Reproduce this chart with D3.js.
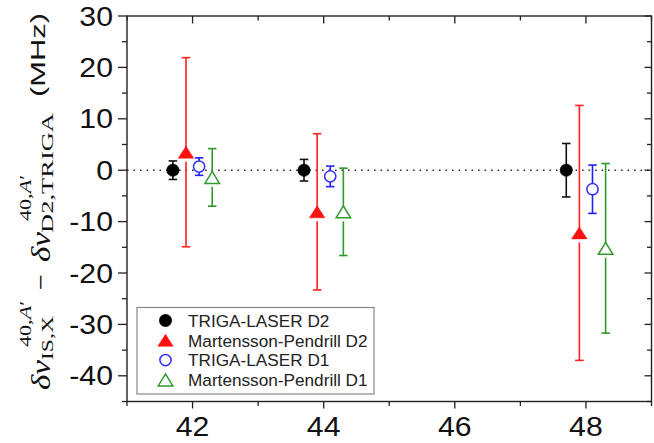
<!DOCTYPE html>
<html><head><meta charset="utf-8">
<script src="https://cdn.jsdelivr.net/npm/d3@7/dist/d3.min.js"></script>
<style>body{margin:0;background:#fff}svg{display:block}</style>
</head><body>
<svg id="c" width="654" height="443"></svg>
<script>
// ---- data ----
const seriesNames = ["TRIGA-LASER D2", "Martensson-Pendrill D2", "TRIGA-LASER D1", "Martensson-Pendrill D1"];
const trigaD2X = [41.7, 43.7, 47.7];
const trigaD2Y = [0, 0, 0];
const trigaD2Err = [1.8, 2.1, 5.2];
const mpD2X = [41.9, 43.9, 47.9];
const mpD2Y = [3.5, -8.1, -12.2];
const mpD2Err = [18.4, 15.2, 24.8];
const trigaD1X = [42.1, 44.1, 48.1];
const trigaD1Y = [0.7, -1.2, -3.7];
const trigaD1Err = [1.7, 2.0, 4.7];
const mpD1X = [42.3, 44.3, 48.3];
const mpD1Y = [-1.4, -8.1, -15.2];
const mpD1Err = [5.6, 8.5, 16.5];
const xTickLabels = [42, 44, 46, 48];
const yTickLabels = [30, 20, 10, 0, -10, -20, -30, -40];

// ---- styling ----
const styles = [
  {shape: "circle", fill: "#000", stroke: "#000", bar: "#111", gap: 0},
  {shape: "tri", fill: "#ff1010", stroke: "#ff1010", bar: "#ff2020", gap: 3.5},
  {shape: "circle", fill: "#fff", stroke: "#3030ff", bar: "#2020ff", gap: 0},
  {shape: "tri", fill: "#fff", stroke: "#2e9a2e", bar: "#2e9a2e", gap: 3.5}
];
const series = [
  {x: trigaD2X, y: trigaD2Y, e: trigaD2Err},
  {x: mpD2X, y: mpD2Y, e: mpD2Err},
  {x: trigaD1X, y: trigaD1Y, e: trigaD1Err},
  {x: mpD1X, y: mpD1Y, e: mpD1Err}
];

const svg = d3.select("#c");
const L = 127, R = 651.5, T = 16, B = 401.5;
const x = d3.scaleLinear().domain([41, 49]).range([L, R]);
const y = d3.scaleLinear().domain([-45, 30]).range([B, T]);
const axisCol = "#222";

// zero dotted line
svg.append("line").attr("x1", L).attr("x2", R).attr("y1", y(0)).attr("y2", y(0))
  .attr("stroke", "#333").attr("stroke-width", 1.6).attr("stroke-dasharray", "1.6,4.9");

// ticks
const xt = d3.range(41, 49.01, 1);
const yt = d3.range(-45, 30.01, 5);
const tk = svg.append("g").attr("stroke", axisCol).attr("stroke-width", 1.3);
xt.forEach(v => {
  const maj = v % 2 === 0;
  tk.append("line").attr("x1", x(v)).attr("x2", x(v)).attr("y1", B).attr("y2", B + (maj ? 7 : 4.5));
  tk.append("line").attr("x1", x(v)).attr("x2", x(v)).attr("y1", T).attr("y2", T + (maj ? 7.5 : 4.5));
});
yt.forEach(v => {
  const maj = v % 10 === 0;
  tk.append("line").attr("y1", y(v)).attr("y2", y(v)).attr("x1", L).attr("x2", L - (maj ? 9 : 5));
  tk.append("line").attr("y1", y(v)).attr("y2", y(v)).attr("x1", R).attr("x2", R - (maj ? 7 : 4.5));
});
// frame
svg.append("rect").attr("x", L).attr("y", T).attr("width", R - L).attr("height", B - T)
  .attr("fill", "none").attr("stroke", axisCol).attr("stroke-width", 1.4);

// tick labels
const lab = svg.append("g").attr("font-family", "Liberation Sans, Arial, sans-serif")
  .attr("font-size", 27).attr("fill", "#111");
xTickLabels.forEach(v => {
  lab.append("text").attr("text-anchor", "middle")
    .attr("transform", `translate(${x(v)},${436}) scale(1.12,1)`).text(v);
});
yTickLabels.forEach(v => {
  lab.append("text").attr("text-anchor", "end").attr("dy", "0.355em")
    .attr("transform", `translate(${113},${y(v)}) scale(1.12,1)`).text(v);
});

// marker drawing
function marker(g, st, cx, cy) {
  if (st.shape === "circle") {
    g.append("circle").attr("cx", cx).attr("cy", cy).attr("r", st.fill === "#fff" ? 5.6 : 6.2)
      .attr("fill", st.fill).attr("stroke", st.stroke).attr("stroke-width", st.fill === "#fff" ? 1.5 : 0.5);
  } else {
    const w = st.fill === "#fff" ? 14.5 : 15.5, h = 12;
    const p = `M${cx},${cy - h / 2}L${cx + w / 2},${cy + h / 2}L${cx - w / 2},${cy + h / 2}Z`;
    g.append("path").attr("d", p).attr("fill", st.fill).attr("stroke", st.stroke)
      .attr("stroke-width", st.fill === "#fff" ? 1.5 : 0.5).attr("stroke-linejoin", "miter");
  }
}

// error bars + markers
series.forEach((s, i) => {
  const st = styles[i];
  const g = svg.append("g");
  s.x.forEach((xv, j) => {
    const cx = x(xv), cy = y(s.y[j]);
    const yTop = y(s.y[j] + s.e[j]), yBot = y(s.y[j] - s.e[j]);
    const cap = 8.5;
    const ln = (x1, y1, x2, y2) => g.append("line").attr("x1", x1).attr("y1", y1).attr("x2", x2).attr("y2", y2)
      .attr("stroke", st.bar).attr("stroke-width", 1.6);
    ln(cx, yTop, cx, cy);
    const h = st.shape === "tri" ? 6 : 0;
    if (cy + h + st.gap < yBot) ln(cx, cy + h + st.gap, cx, yBot);
    ln(cx - cap / 2, yTop, cx + cap / 2, yTop);
    ln(cx - cap / 2, yBot, cx + cap / 2, yBot);
    marker(g, st, cx, cy);
  });
});

// legend
const lg = svg.append("g");
lg.append("rect").attr("x", 137).attr("y", 307.5).attr("width", 237).attr("height", 86.5)
  .attr("fill", "#fff").attr("stroke", "#888").attr("stroke-width", 1.2);
seriesNames.forEach((n, i) => {
  const ry = 320.5 + i * 19.8;
  marker(lg, styles[i], 165.5, ry);
  lg.append("text").attr("x", 188).attr("y", ry + 6.2).attr("font-family", "Liberation Sans, Arial, sans-serif")
    .attr("font-size", 17.2).attr("fill", "#222").text(n);
});

// y-axis title (rotated math)
const tg = svg.append("g").attr("fill", "#111");
function piece(parts, bx, startY, len, size, fam) {
  const t = tg.append("text").attr("transform", `translate(${bx},${startY}) rotate(-90)`)
    .attr("font-family", fam).attr("font-size", size)
    .attr("textLength", len).attr("lengthAdjust", "spacingAndGlyphs");
  parts.forEach(([s, it]) => t.append("tspan").attr("font-style", it ? "italic" : "normal").text(s));
}
const serif = "Liberation Serif, DejaVu Serif, serif";
piece([["δν", true]], 50, 390, 30, 28, serif);
piece([["IS,X", false]], 53, 360, 44, 17, serif);
piece([["40,", false], ["A", true], ["′", false]], 31, 347, 46, 17, serif);
piece([["−", false]], 50, 290, 16, 28, serif);
piece([["δν", true]], 50, 262, 30, 28, serif);
piece([["D2,TRIGA", false]], 53, 233, 120, 17, serif);
piece([["40,", false], ["A", true], ["′", false]], 31, 221, 46, 17, serif);
piece([["(MHz)", false]], 45, 97, 84, 21, "Liberation Sans, Arial, sans-serif");
</script>
</body></html>
